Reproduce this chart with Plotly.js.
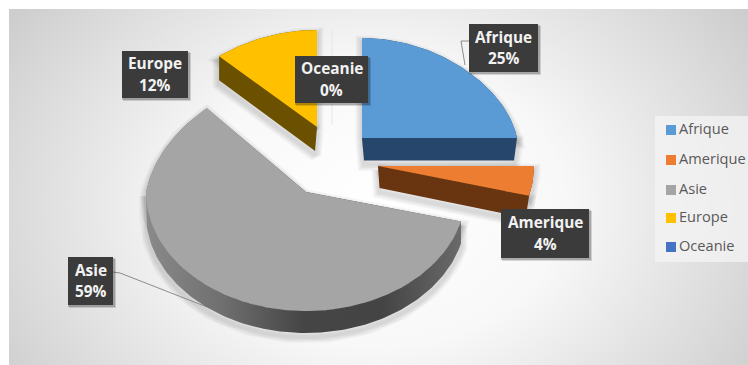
<!DOCTYPE html>
<html>
<head>
<meta charset="utf-8">
<script src="https://cdn.plot.ly/plotly-3.0.1.min.js"></script>
<style>
  html, body { margin: 0; padding: 0; background: #fff; width: 748px; height: 365px; overflow: hidden; }
  #panel { position: absolute; left: 9px; top: 9px; width: 739px; height: 356px;
    background: radial-gradient(ellipse 78% 125% at 50% 55%, #ffffff 0%, #f8f8f8 32%, #dadada 64%, #c6c6c6 84%); }
  #chart { position: absolute; left: 0; top: 0; width: 748px; height: 365px; }
</style>
</head>
<body>
<div id="panel"></div>
<div id="chart"></div>
<script>
// Répartition par continent
const continents = ['Afrique', 'Amerique', 'Asie', 'Europe', 'Oceanie'];
const shares = [25, 4, 59, 12, 0];
const topColors = ['#5b9bd5', '#ed7d31', '#a5a5a5', '#ffc000', '#4472c4'];
const sideColors = ['#26476b', '#693410', '#555555', '#6b5000', '#dddddd'];

// Exploded disc geometry for each slice: apex position and radii of the tilted disc
const apexX = [362, 378, 306, 317, 332];
const apexY = [138, 166, 192, 127, 125];
const radiusX = [155, 156, 160, 158, 158];
const radiusFar = [100, 100, 115, 97, 95];
const radiusNear = [120, 120, 119, 120, 120];
const depth = [22.5, 22, 22, 24, 0];
// Vanishing x and strength used to taper the extruded bottom edge
const taperX = [424, 424, 306, 220, 332];
const taperK = [0.032, 0.032, 0, 0.02, 0];

// Data label boxes [left, right, top, bottom]
const boxLeft = [469, 501, 68, 122, 295];
const boxRight = [538, 589, 113, 188, 368];
const boxTop = [24, 209, 257, 51, 56];
const boxBottom = [72, 258, 305, 98, 103];

// Leader lines
const leaderAfriqueX = [469, 461, 465];
const leaderAfriqueY = [41, 41, 65];
const leaderAsieX = [113, 120, 207];
const leaderAsieY = [272, 273, 307];

// Legend rows
const legendRowY = [130, 160, 190, 218, 247];

// Stacked strokes that build a soft shadow under the slices
const haloWidths = [13, 10, 7, 4];
const haloColor = 'rgba(0,0,0,0.035)';
const haloDrop = 4;

const FAR_NARROWING = 0.13;
const rad = d => d * Math.PI / 180;

function discPoint(i, deg) {
  const s = Math.sin(rad(deg)), c = Math.cos(rad(deg));
  const narrow = 1 - FAR_NARROWING * Math.max(0, c);
  return [apexX[i] + radiusX[i] * s * narrow,
          apexY[i] - (c > 0 ? radiusFar[i] : radiusNear[i]) * c];
}
function drop(i, p) {
  return [p[0] + (taperX[i] - p[0]) * taperK[i], p[1] + depth[i]];
}
function arc(i, a, b) {
  const pts = [];
  const n = Math.max(2, Math.ceil(Math.abs(b - a) / 1.5));
  for (let k = 0; k <= n; k++) pts.push(discPoint(i, a + (b - a) * k / n));
  return pts;
}

// Slice angles follow from the shares, clockwise from twelve o'clock
const total = shares.reduce((a, b) => a + b, 0);
let running = 0;
const startAngle = [], endAngle = [];
shares.forEach(v => {
  startAngle.push(running * 360 / total);
  running += v;
  endAngle.push(running * 360 / total);
});

const haloTraces = [], silhouetteTraces = [], topTraces = [];
const splitXY = list => ({ x: list.map(p => p ? p[0] : null), y: list.map(p => p ? p[1] : null) });

continents.forEach((name, i) => {
  if (shares[i] === 0) return;
  const apex = [apexX[i], apexY[i]];
  const a = startAngle[i], b = endAngle[i];
  const top = [apex].concat(arc(i, a, b)).concat([apex]);
  let side;
  if (b - a > 180) {
    // Large slice: rim of the disc facing the viewer
    const rim = arc(i, a, 270);
    side = rim.concat(rim.slice().reverse().map(p => drop(i, p)));
  } else {
    // Small slice: the cut face turned toward the viewer
    const edge = discPoint(i, (name === 'Europe') ? a : b);
    side = [apex, edge, drop(i, edge), drop(i, apex)];
  }
  const closedSide = side.concat([side[0]]);
  const silhouette = splitXY(closedSide.concat([null]).concat(top));
  haloWidths.forEach(w => haloTraces.push({
    type: 'scatter', mode: 'lines', x: silhouette.x, y: silhouette.y.map(v => v === null ? null : v + haloDrop),
    line: { width: w, color: haloColor }, hoverinfo: 'skip', showlegend: false
  }));
  const body = {
    type: 'scatter', mode: 'lines', x: silhouette.x, y: silhouette.y, fill: 'toself',
    line: { width: 0 }, fillcolor: sideColors[i], hoverinfo: 'skip', showlegend: false
  };
  if (name === 'Asie') {
    body.fillgradient = { type: 'horizontal', colorscale: [
      [0, '#8a8a8a'], [0.25, '#6e6e6e'], [0.5, '#454545'], [0.75, '#444444'], [1, '#6a6a6a'] ] };
  }
  silhouetteTraces.push(body);
  const t = splitXY(top);
  topTraces.push({
    type: 'scatter', mode: 'lines', x: t.x, y: t.y, fill: 'toself', name,
    line: { width: 0 }, fillcolor: topColors[i], hoverinfo: 'skip', showlegend: false
  });
});

// Zero share: the empty slice only leaves a hairline
const oceanie = continents.indexOf('Oceanie');
const hairline = splitXY([[apexX[oceanie], apexY[oceanie]], discPoint(oceanie, 0)]);
const hairlineTrace = {
  type: 'scatter', mode: 'lines', x: hairline.x, y: hairline.y,
  line: { width: 1, color: '#e6e6e6' }, hoverinfo: 'skip', showlegend: false
};

const leaderLine = (x, y) => ({
  type: 'scatter', mode: 'lines', x, y,
  line: { width: 1, color: '#8c8c8c' }, hoverinfo: 'skip', showlegend: false
});

const legendSwatches = {
  type: 'scatter', mode: 'markers',
  x: continents.map(() => 671), y: legendRowY,
  marker: { symbol: 'square', size: 10, color: topColors, line: { width: 0 } },
  hoverinfo: 'skip', showlegend: false
};
const legendLabels = {
  type: 'scatter', mode: 'text',
  x: continents.map(() => 679), y: legendRowY,
  text: continents, textposition: 'middle right',
  textfont: { family: 'Open Sans, sans-serif', size: 14.6, color: '#595959' },
  hoverinfo: 'skip', showlegend: false
};

const data = haloTraces
  .concat([hairlineTrace, leaderLine(leaderAfriqueX, leaderAfriqueY), leaderLine(leaderAsieX, leaderAsieY)])
  .concat(silhouetteTraces).concat(topTraces).concat([legendSwatches, legendLabels]);

// Dark label boxes and their two lines of text
const shapes = [{
  type: 'rect', layer: 'below', xref: 'x', yref: 'y', x0: 655, x1: 748, y0: 116, y1: 262,
  fillcolor: 'rgba(244,244,244,0.75)', line: { width: 0 }
}];
const annotations = [];
const labelFont = { family: 'Open Sans, sans-serif', size: 15.4, color: '#f2f2f2' };
continents.forEach((name, i) => {
  [[3, 0.14], [2, 0.2]].forEach(([off, alpha]) => shapes.push({
    type: 'rect', layer: 'above', xref: 'x', yref: 'y',
    x0: boxLeft[i] + off - 2, x1: boxRight[i] + off, y0: boxTop[i] + off - 1, y1: boxBottom[i] + off,
    fillcolor: 'rgba(0,0,0,' + alpha + ')', line: { width: 0 }
  }));
  shapes.push({
    type: 'rect', layer: 'above', xref: 'x', yref: 'y',
    x0: boxLeft[i], x1: boxRight[i], y0: boxTop[i], y1: boxBottom[i],
    fillcolor: '#3b3b3b', line: { width: 0 }
  });
  const cx = (boxLeft[i] + boxRight[i]) / 2;
  const cy = (boxTop[i] + boxBottom[i]) / 2;
  annotations.push({ x: cx, y: cy - 11, xref: 'x', yref: 'y', text: '<b>' + name + '</b>', showarrow: false, font: labelFont });
  annotations.push({ x: cx, y: cy + 10.5, xref: 'x', yref: 'y', text: '<b>' + shares[i] + '%</b>', showarrow: false, font: labelFont });
});

const layout = {
  width: 748, height: 365,
  margin: { l: 0, r: 0, t: 0, b: 0 },
  paper_bgcolor: 'rgba(0,0,0,0)', plot_bgcolor: 'rgba(0,0,0,0)',
  xaxis: { range: [0, 748], visible: false, fixedrange: true },
  yaxis: { range: [365, 0], visible: false, fixedrange: true },
  showlegend: false, shapes, annotations
};

Plotly.newPlot('chart', data, layout, { displayModeBar: false, staticPlot: true });
</script>
</body>
</html>
